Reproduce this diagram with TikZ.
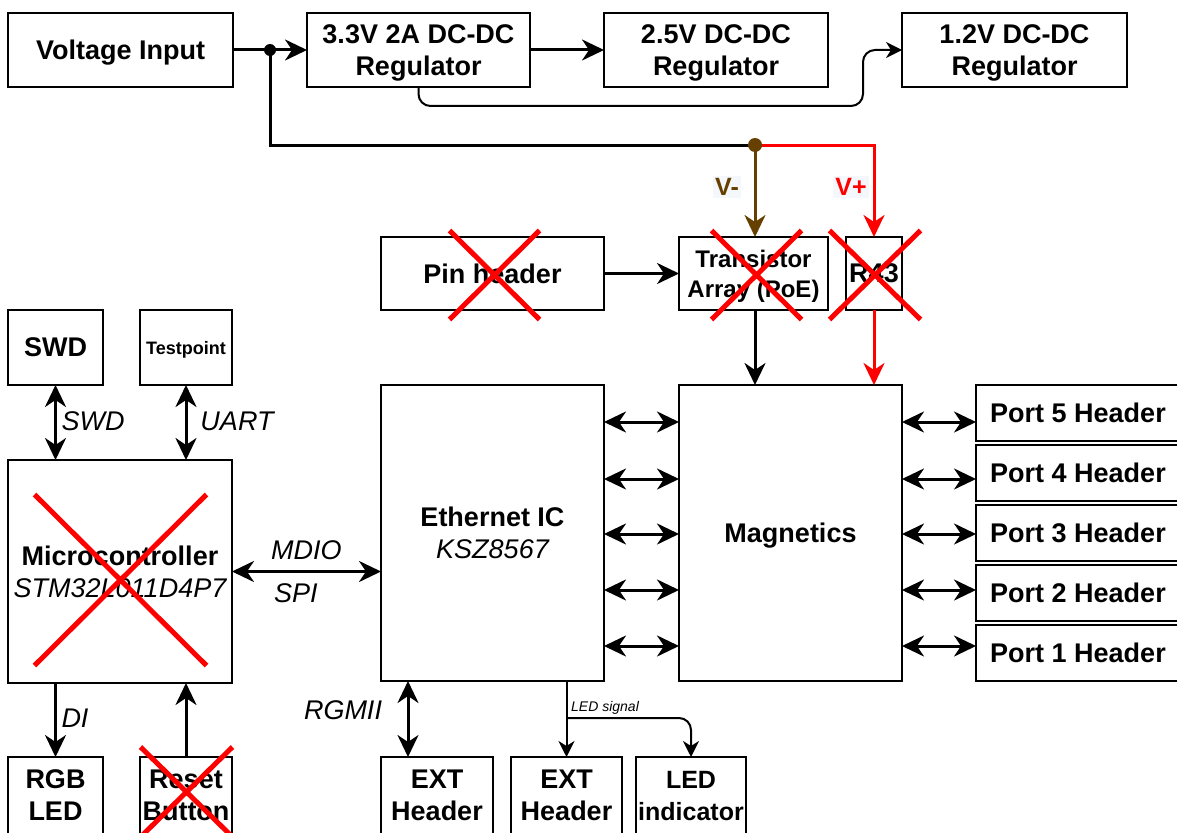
\documentclass[tikz,border=0pt]{standalone}
\usepackage{fontspec}
\setmainfont{Liberation Sans}
\usepackage{tikz}
\usetikzlibrary{shapes.misc}
\usetikzlibrary{arrows.meta}
\usetikzlibrary{positioning}
\definecolor{vminus}{RGB}{102,64,0}
\definecolor{lblbg}{RGB}{244,247,252}

\begin{document}
\begin{tikzpicture}
  [x=1pt, y=-1pt, >={Stealth[length=22pt, width=21pt, inset=7pt]},
   box/.style={draw, line width=2pt, align=center, inner sep=0pt, outer sep=0pt,
     text depth=0pt, minimum height=74pt, font=\bfseries\fontsize{27}{32}\selectfont},
   port/.style={box, minimum width=204pt, minimum height=56pt},
   lbl/.style={font=\itshape\fontsize{27}{30}\selectfont, inner sep=1pt},
   wire/.style={line width=3pt},
   sigline/.style={line width=2pt, >={Stealth[length=16pt, width=16pt, inset=5pt]}, ->},
   nix/.style={cross out, draw=red, line width=5pt, inner sep=0pt,
     minimum width=85pt, minimum height=84pt}]
  \useasboundingbox (0,0) rectangle (1177,832);

  % power chain
  \node (vin) [box, minimum width=225pt] at (120.5,50) {Voltage Input};
  \node (reg33) [box, minimum width=223pt, right=74pt of vin] {3.3V 2A DC-DC\\Regulator};
  \node (reg25) [box, minimum width=224pt, right=74pt of reg33] {2.5V DC-DC\\Regulator};
  \node (reg12) [box, minimum width=225pt, right=74pt of reg25] {1.2V DC-DC\\Regulator};

  \node (pinhdr) [box, minimum width=223pt, minimum height=73pt] at (492.5,273.5) {Pin header};
  \node (trans) [box, minimum width=149pt, minimum height=73pt, right=75pt of pinhdr,
    font=\bfseries\fontsize{24}{30}\selectfont] {Transistor\\Array (PoE)};
  \node (r43) [box, minimum width=56pt, minimum height=73pt, right=18pt of trans] {R43};

  % switch
  \node (eth) [box, minimum width=223pt, minimum height=296pt, below=75pt of pinhdr]
    {Ethernet IC\\{\mdseries\itshape KSZ8567}};
  \node (mag) [box, minimum width=223pt, minimum height=296pt, right=75pt of eth] {Magnetics};
  \foreach \n [count=\i from 0] in {5,4,3,2,1}
    \node (p\n) [port] at (1078,413+60*\i) {Port \n\ Header};

  % mcu side
  \node (micro) [box, minimum width=224pt, minimum height=223pt] at (120,571.5)
    {Microcontroller\\{\mdseries\itshape STM32L011D4P7}};
  \node (swd) [box, minimum width=95pt, minimum height=75pt] at (55.5,347.5) {SWD};
  \node (tp) [box, minimum width=92pt, minimum height=75pt,
    font=\bfseries\fontsize{18}{22}\selectfont] at (186,347.5) {Testpoint};
  \node (rgb) [box, minimum width=95pt, minimum height=77pt] at (55.5,795.5) {RGB\\LED};
  \node (reset) [box, minimum width=92pt, minimum height=77pt] at (186,795.5) {Reset\\Button};

  \node (ext1) [box, minimum width=112pt, minimum height=77pt] at (437,795.5) {EXT\\Header};
  \node (ext2) [box, minimum width=111pt, minimum height=77pt] at (566.5,795.5) {EXT\\Header};
  \node (ledind) [box, minimum width=110pt, minimum height=77pt,
    font=\bfseries\fontsize{25}{32}\selectfont] at (691,795.5) {LED\\indicator};

  \coordinate (jn) at (270,50);
  \coordinate (pdot) at (755,145);
  \coordinate (rgmii) at (408,718);
  \coordinate (ledsplit) at (566.5,718);

  \draw[wire, ->] (vin) -- (reg33);
  \draw[wire, ->] (reg33) -- (reg25);
  \draw[sigline, rounded corners=12pt] (reg33.south) |- (863,106) |- (reg12.west);
  \draw[wire] (jn) |- (pdot);
  \draw[wire, ->, vminus] (pdot) -- (pdot |- trans.north);
  \draw[wire, ->, red] (pdot) -| (r43.north);
  \fill (jn) circle (6pt);
  \fill[vminus] (pdot) circle (7pt);
  \node (vm) [fill=lblbg, text=vminus, font=\bfseries\fontsize{25}{30}\selectfont, inner sep=2pt] at (727,187) {V-};
  \node (vp) [fill=lblbg, text=red, font=\bfseries\fontsize{25}{30}\selectfont, inner sep=2pt] at (851,187) {V+};

  \draw[wire, ->] (pinhdr) -- (trans);
  \draw[wire, ->] (pdot |- trans.south) -- (pdot |- mag.north);
  \draw[wire, ->, red] (r43.south) -- (r43.south |- mag.north);

  \foreach \y in {422,479,534,590,646} {
    \draw[wire, <->] (eth.east |- 0,\y) -- (mag.west |- 0,\y);
    \draw[wire, <->] (mag.east |- 0,\y) -- (p1.west |- 0,\y);
  }

  \draw[wire, <->] (swd) -- (swd |- micro.north);
  \draw[wire, <->] (tp) -- (tp |- micro.north);
  \node[lbl] at (93,421) {SWD};
  \node[lbl] at (237,421) {UART};
  \draw[wire, <->] (micro.east) -- (micro.east -| eth.west);
  \node[lbl, anchor=west] at (270,550) {MDIO};
  \node[lbl, anchor=west] at (273,593) {SPI};
  \draw[wire, ->] (micro.south -| rgb) -- (rgb);
  \node[lbl] at (75,718) {DI};
  \draw[wire, ->] (reset) -- (reset |- micro.south);

  \draw[wire, <->] (rgmii |- eth.south) -- (rgmii |- ext1.north);
  \node[lbl] at (343,710) {RGMII};
  \draw[sigline] (ext2.north |- eth.south) -- (ext2.north);
  \draw[sigline, rounded corners=12pt] (ledsplit) -| (ledind.north);
  \node[font=\itshape\fontsize{14}{16}\selectfont, anchor=south west, inner sep=1pt] at (570,716) {LED signal};

  % parts that are dropped
  \node[nix, minimum width=85pt] at (494.5,275) {};
  \node[nix] at (756.5,275) {};
  \node[nix, minimum width=86pt] at (875,275) {};
  \node[nix, minimum width=167pt, minimum height=166pt] at (120.5,580) {};
  \node[nix, minimum width=87pt, minimum height=85pt] at (186.5,792) {};
\end{tikzpicture}
\end{document}
